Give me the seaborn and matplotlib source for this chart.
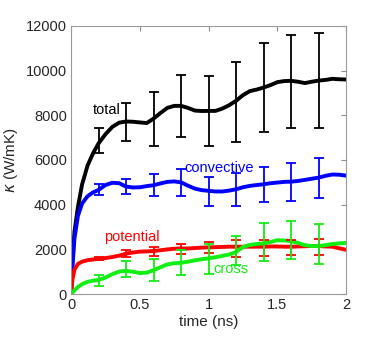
import pandas as pd
import seaborn as sns
import matplotlib.pyplot as plt

# curves (time in ns, kappa in W/mK)
time = [0, 0.01, 0.025, 0.05, 0.08, 0.12, 0.16, 0.2, 0.25, 0.3, 0.35, 0.4, 0.45, 0.5,
        0.55, 0.6, 0.65, 0.7, 0.75, 0.8, 0.85, 0.9, 0.95, 1.0, 1.05, 1.1, 1.15, 1.2,
        1.25, 1.3, 1.35, 1.4, 1.45, 1.5, 1.55, 1.6, 1.65, 1.7, 1.75, 1.8, 1.85, 1.9,
        1.95, 2.0]
total = [0, 1500, 2800, 3900, 4900, 5750, 6300, 6740, 7150, 7480, 7670, 7720, 7710, 7680,
         7650, 7850, 8100, 8330, 8420, 8420, 8330, 8210, 8190, 8195, 8195, 8300, 8450, 8650,
         8900, 9080, 9150, 9240, 9350, 9480, 9530, 9540, 9500, 9440, 9500, 9550, 9580, 9630,
         9610, 9600]
convective = [0, 1200, 2500, 3500, 4050, 4380, 4550, 4660, 4880, 4980, 4960, 4810, 4770, 4780,
              4830, 4870, 4950, 5020, 5040, 5000, 4850, 4720, 4650, 4620, 4590, 4590, 4630, 4690,
              4780, 4840, 4880, 4910, 4960, 4990, 5020, 5030, 5060, 5110, 5160, 5210, 5290, 5350,
              5340, 5300]
potential = [0, 650, 1100, 1350, 1450, 1520, 1550, 1570, 1610, 1660, 1720, 1810, 1860, 1900,
             1910, 1930, 1960, 2000, 2030, 2040, 2040, 2060, 2080, 2090, 2100, 2110, 2120, 2120,
             2120, 2120, 2120, 2120, 2130, 2130, 2120, 2120, 2130, 2140, 2150, 2150, 2130, 2120,
             2050, 1980]
cross = [0, 70, 170, 320, 440, 550, 600, 630, 740, 890, 1010, 1040, 1000, 940,
         960, 1070, 1200, 1330, 1380, 1400, 1450, 1510, 1560, 1600, 1650, 1710, 1770, 1880,
         2110, 2200, 2240, 2270, 2330, 2410, 2400, 2370, 2290, 2190, 2150, 2150, 2190, 2240,
         2270, 2290]

# error bars
t_err = [0.2, 0.4, 0.6, 0.8, 1.0, 1.2, 1.4, 1.6, 1.8]
total_c = [6870, 7710, 7850, 8420, 8195, 8610, 9254, 9516, 9546]
total_e = [573, 858, 1210, 1402, 1567, 1792, 1986, 2069, 2127]
conv_c = [4672, 4814, 4888, 4986, 4598, 4672, 4904, 5030, 5210]
conv_e = [240, 336, 486, 598, 642, 732, 798, 850, 896]
pot_c = [1582, 1806, 1911, 2015, 2067, 2045, 2060, 2082, 2097]
pot_e = [60, 164, 209, 224, 246, 373, 358, 336, 351]
cross_c = [605, 1120, 1082, 1410, 1567, 1948, 2330, 2404, 2225]
cross_e = [246, 373, 485, 560, 671, 649, 836, 852, 896]

x_ticks = [0, 0.5, 1, 1.5, 2]
x_labels = ['0', '0.5', '1', '1.5', '2']
y_ticks = [0, 2000, 4000, 6000, 8000, 10000, 12000]

colors = {'total': 'black', 'convective': '#0000ff', 'potential': '#ff0000', 'cross': '#11ee11'}

sns.set_theme(style="white")
plt.rcParams['font.family'] = ['Liberation Sans', 'DejaVu Sans']

df = pd.DataFrame({'time': time, 'total': total, 'convective': convective,
                   'potential': potential, 'cross': cross})
long = df.melt(id_vars='time', var_name='part', value_name='kappa')

fig = plt.figure(figsize=(3.82, 3.40), dpi=100)
ax = fig.add_axes([0.186, 0.135, 0.72, 0.789])

sns.lineplot(data=long, x='time', y='kappa', hue='part', palette=colors,
             linewidth=2.8, legend=False, ax=ax)

for c, e, name in [(total_c, total_e, 'total'), (conv_c, conv_e, 'convective'),
                   (pot_c, pot_e, 'potential'), (cross_c, cross_e, 'cross')]:
    ax.errorbar(t_err, c, yerr=e, fmt='none', ecolor=colors[name],
                elinewidth=1.3, capsize=3.5, capthick=1.3)

# curve labels
ax.text(0.155, 8240, 'total', color='black', va='center', fontsize=10.5)
ax.text(0.824, 5628, 'convective', color=colors['convective'], va='center', fontsize=10.5)
ax.text(0.242, 2538, 'potential', color=colors['potential'], va='center', fontsize=10.5)
ax.text(1.035, 1104, 'cross', color=colors['cross'], va='center', fontsize=10.5)

ax.set_xlim(0, 2)
ax.set_ylim(0, 12000)
ax.set_xticks(x_ticks)
ax.set_xticklabels(x_labels)
ax.set_yticks(y_ticks)
ax.tick_params(direction='in', top=True, right=True, length=3.5, width=0.8,
               color='#8c8c8c', labelcolor='#262626', labelsize=10.5, pad=3)
for s in ax.spines.values():
    s.set_color('#9a9a9a')
    s.set_linewidth(0.8)

ax.set_xlabel('time (ns)', fontsize=11, color='#262626', labelpad=2)
ax.set_ylabel(r'$\kappa$ (W/mK)', fontsize=11, color='#262626', labelpad=4)

fig.savefig('out.png', dpi=100)
